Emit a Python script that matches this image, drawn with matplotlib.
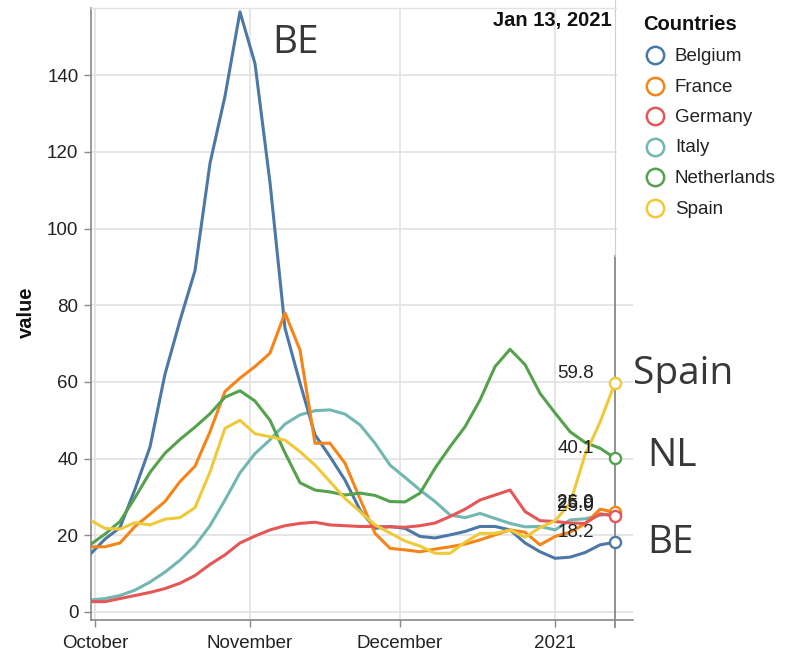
import matplotlib.pyplot as plt
import matplotlib.dates as mdates
from matplotlib.lines import Line2D
from matplotlib.patches import Rectangle
from matplotlib.ticker import FuncFormatter
import pandas as pd

# data, sampled every 3 days (Sep 30 2020 -> Jan 13 2021)
dates = pd.date_range("2020-09-30", "2021-01-13", freq="3D")
countries = ["Belgium", "France", "Germany", "Italy", "Netherlands", "Spain"]
colors = ["#4c78a8", "#f58518", "#e45756", "#72b7b2", "#54a24b", "#eeca3b"]

belgium = [15.0, 19.0, 22.0, 32.0, 43.0, 62.0, 76.0, 89.0, 117.0, 134.5,
           156.5, 143.0, 112.0, 74.0, 59.7, 46.2, 40.5, 34.4, 26.6, 21.8,
           22.3, 21.8, 19.7, 19.3, 20.1, 21.0, 22.3, 22.3, 21.4, 18.0,
           15.7, 14.0, 14.3, 15.5, 17.5, 18.2]
france = [17.0, 17.0, 18.0, 22.3, 25.5, 28.8, 34.0, 38.0, 47.0, 57.5,
          61.0, 64.0, 67.5, 78.0, 68.3, 44.0, 44.0, 38.8, 29.5, 20.5,
          16.6, 16.2, 15.7, 16.4, 17.0, 17.7, 18.8, 20.1, 21.4, 20.8,
          17.5, 19.7, 20.8, 23.0, 26.8, 26.0]
germany = [2.7, 2.7, 3.5, 4.3, 5.1, 6.1, 7.5, 9.5, 12.4, 14.9,
           18.0, 19.8, 21.4, 22.5, 23.1, 23.4, 22.7, 22.5, 22.3, 22.3,
           22.2, 22.1, 22.5, 23.2, 24.9, 26.8, 29.2, 30.5, 31.8, 26.2,
           23.8, 23.6, 23.2, 23.1, 25.6, 25.0]
italy = [3.1, 3.5, 4.3, 5.7, 7.8, 10.4, 13.5, 17.3, 22.5, 29.2,
         36.3, 41.3, 44.9, 49.0, 51.4, 52.5, 52.7, 51.6, 48.8, 44.0,
         38.3, 35.1, 31.8, 28.8, 25.3, 24.6, 25.7, 24.4, 23.1, 22.2,
         22.3, 21.4, 24.0, 24.3, 25.2, 25.9]
netherlands = [17.5, 20.3, 23.6, 29.8, 36.4, 41.4, 45.0, 48.2, 51.7, 56.0,
               57.7, 55.0, 50.0, 41.5, 33.7, 31.8, 31.3, 30.5, 31.0, 30.4,
               28.8, 28.7, 31.0, 37.5, 43.1, 48.3, 55.3, 64.0, 68.5, 64.5,
               57.0, 51.9, 47.0, 44.2, 42.7, 40.1]
spain = [24.0, 21.8, 21.6, 23.3, 22.7, 24.2, 24.6, 27.2, 36.5, 47.9,
         50.0, 46.5, 45.7, 44.8, 41.8, 38.3, 34.0, 29.6, 26.2, 22.7,
         20.6, 18.5, 17.2, 15.3, 15.3, 18.2, 20.5, 20.5, 21.4, 19.5,
         22.0, 23.8, 28.3, 41.0, 49.5, 59.8]
series = [belgium, france, germany, italy, netherlands, spain]

# big hand-written notes: (country, text, date index, pixel offset)
notes = [("Belgium", "BE", 10, (32, -41)),
         ("Spain", "Spain", -1, (18, -1)),
         ("Netherlands", "NL", -1, (32, -8)),
         ("Belgium", "BE", -1, (32, -11))]

plt.rcParams['font.family'] = ['Liberation Sans', 'DejaVu Sans']

W, H = 792, 656
fig = plt.figure(figsize=(W / 100, H / 100), dpi=100)
ax = fig.add_axes([91 / W, 36 / H, 542 / W, 612 / H])

# Italy sits underneath the others at the end
zs = {"Italy": 2.5}
for name, vals, c in zip(countries, series, colors):
    z = zs.get(name, 3)
    ax.plot(dates, vals, color=c, lw=2.2, solid_joinstyle='round', zorder=z)
    ax.plot(dates[-1], vals[-1], 'o', ms=8, mfc='white', mec=c, mew=1.7, zorder=z + 0.1)
    ax.annotate(f"{vals[-1]:.1f}", (dates[-1], vals[-1]), xytext=(-21, 5),
                textcoords='offset pixels', ha='right', va='baseline',
                fontsize=13.5, color='#222', zorder=5)

for name, txt, i, off in notes:
    vals = series[countries.index(name)]
    ax.annotate(txt, (dates[i], vals[i]), xytext=off, textcoords='offset pixels',
                ha='left', va='baseline', fontsize=28, family='Open Sans',
                color='#383838', zorder=6)

# rule at the last date
last = dates[-1]
ax.axvline(last, ymin=-0.012, ymax=0.595, color='#888', lw=1.3, zorder=2, clip_on=False)
ax.axvline(last, ymin=0.595, ymax=1.013, color='#d0d0d0', lw=0.8, zorder=2, clip_on=False)
ax.annotate(last.strftime("%b %d, %Y"), (last, 1), xycoords=('data', 'axes fraction'),
            xytext=(-3, -18.5), textcoords='offset pixels', ha='right', va='baseline',
            fontsize=14.5, fontweight='bold', color='#111')

ax.set_xlim(pd.Timestamp("2020-09-30 05:00"), pd.Timestamp("2021-01-16 14:00"))
ax.set_ylim(-2.09, 157.5)
ax.set_yticks(range(0, 141, 20))
ax.xaxis.set_major_locator(mdates.MonthLocator())
ax.xaxis.set_major_formatter(FuncFormatter(
    lambda x, p: mdates.num2date(x).strftime("%Y" if mdates.num2date(x).month == 1 else "%B")))

ax.grid(True, color='#e2e2e2', lw=1.2, zorder=0)
ax.set_axisbelow(True)
ax.spines['right'].set_visible(False)
ax.spines['top'].set_color('#e2e2e2')
ax.spines['top'].set_linewidth(1)
for s in ['left', 'bottom']:
    ax.spines[s].set_color('#888')
    ax.spines[s].set_linewidth(1.2)
ax.tick_params(length=5, width=1, color='#888', labelsize=13.5, labelcolor='#222')
ax.tick_params(axis='x', pad=6)
ax.tick_params(axis='y', pad=4)

fig.text(26 / W, 1 - 312 / H, "value", rotation=90, ha='center', va='center',
         fontsize=14.5, fontweight='bold', color='#111')

# legend box pasted over the top right
fig.add_artist(Rectangle((617 / W, 1 - 256 / H), 1 - 617 / W, 256 / H,
                         transform=fig.transFigure, fc='white', ec='none', zorder=2))
fig.text(643 / W, 1 - 29.5 / H, "Countries", ha='left', va='baseline',
         fontsize=14.5, fontweight='bold', color='#111')
for i, (name, c) in enumerate(zip(countries, colors)):
    yc = 55 + 30.5 * i
    fig.add_artist(Line2D([654.5 / W], [1 - yc / H], transform=fig.transFigure,
                          marker='o', ms=12.5, mfc='white', mec=c, mew=1.8, zorder=3))
    fig.text(675 / W, 1 - (yc + 6) / H, name, ha='left', va='baseline',
             fontsize=13.5, color='#222')

fig.savefig("out.png", dpi=100)
